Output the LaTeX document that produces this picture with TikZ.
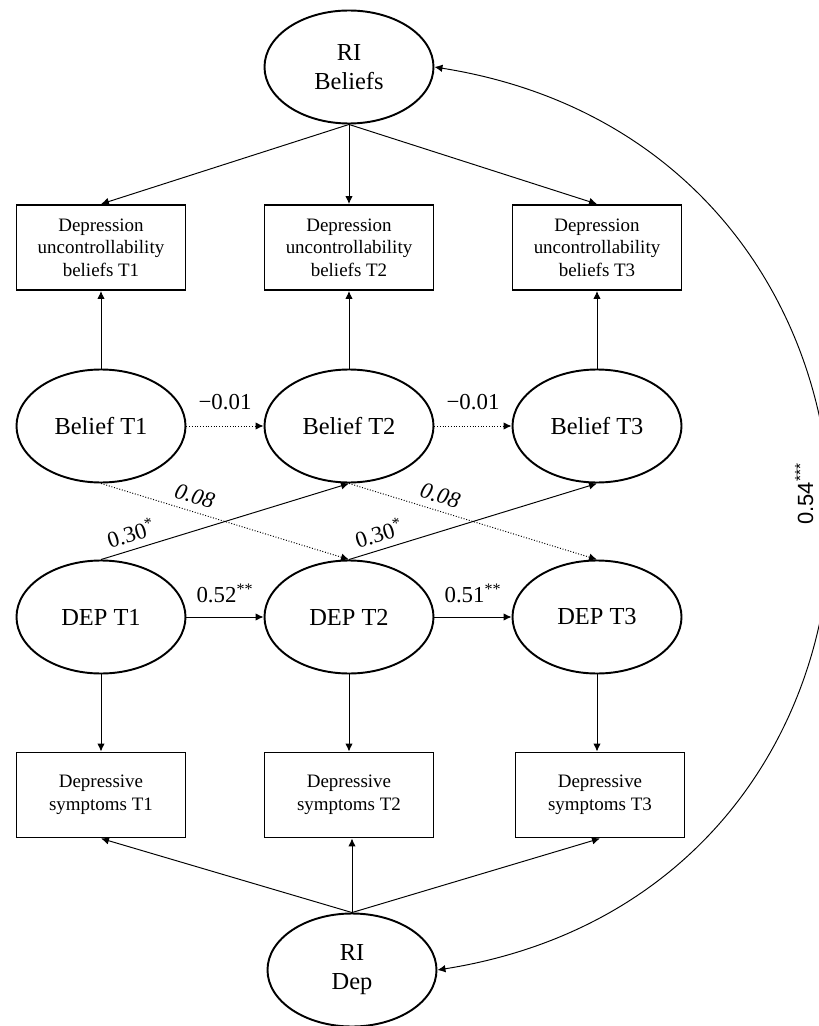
\documentclass[tikz,border=0pt]{standalone}
\usepackage{fontspec}
\setmainfont{Liberation Serif}
\newfontfamily\labelsans{Liberation Sans}
\usepackage{tikz}
\usetikzlibrary{shapes.geometric,arrows.meta,positioning}

\begin{document}
\begin{tikzpicture}[
    node distance=4.96cm,
    every node/.style={align=center},
    latent/.style={ellipse, draw, line width=1.1pt, minimum width=3.38cm, minimum height=2.26cm, inner sep=0pt, font=\fontsize{13.9}{16.4}\selectfont},
    indicator/.style={rectangle, draw, line width=1.1pt, minimum width=3.38cm, minimum height=1.7cm, inner sep=0pt, font=\fontsize{10.8}{12.8}\selectfont},
    arrow/.style={line width=0.55pt, >={Latex[length=0.16cm, width=0.15cm]}, ->},
    dotarrow/.style={arrow, densely dotted},
    coef/.style={font=\fontsize{13}{15}\selectfont},
    crosscoef/.style={coef, inner sep=1pt, above=3pt, sloped}
]

\useasboundingbox (-2.02,-12.0) rectangle (14.34,8.52);

% Latent factors
\node[latent] (belief1) {Belief T1};
\node[latent, right of=belief1] (belief2) {Belief T2};
\node[latent, right of=belief2] (belief3) {Belief T3};
\node[latent, below of=belief1, yshift=1.14cm] (dep1) {DEP T1};
\node[latent, right of=dep1] (dep2) {DEP T2};
\node[latent, right of=dep2] (dep3) {DEP T3};

% Observed indicators
\node[indicator, above of=belief1, yshift=-1.39cm] (ind1) {Depression\\uncontrollability\\beliefs T1};
\node[indicator, right of=ind1] (ind2) {Depression\\uncontrollability\\beliefs T2};
\node[indicator, right of=ind2] (ind3) {Depression\\uncontrollability\\beliefs T3};
\node[indicator, below of=dep1, yshift=1.4cm] (sym1) {Depressive\\symptoms T1};
\node[indicator, right of=sym1] (sym2) {Depressive\\symptoms T2};
\node[indicator, right of=sym2, xshift=0.06cm] (sym3) {Depressive\\symptoms T3};

% Random intercepts
\node[latent, above of=ind2, yshift=-1.35cm] (ribel) {RI\\Beliefs};
\node[latent, below of=sym2, yshift=1.46cm, xshift=0.06cm] (ridep) {RI\\Dep};

% Loadings
\draw[arrow] (ribel.south) -- (ind1.north);
\draw[arrow] (ribel.south) -- (ind2.north);
\draw[arrow] (ribel.south) -- (ind3.north);
\draw[arrow] (belief1) -- (ind1);
\draw[arrow] (belief2) -- (ind2);
\draw[arrow] (belief3) -- (ind3);
\draw[arrow] (dep1) -- (sym1);
\draw[arrow] (dep2) -- (sym2);
\draw[arrow] (dep3.south) -- (dep3.south |- sym3.north);
\draw[arrow] (ridep.north) -- (sym1.south);
\draw[arrow] (ridep.north) -- (ridep.north |- sym2.south);
\draw[arrow] (ridep.north) -- (sym3.south);

% Autoregressive paths
\draw[dotarrow] (belief1) -- (belief2) node[coef, midway, above=0.2cm] {−0.01};
\draw[dotarrow] (belief2) -- (belief3) node[coef, midway, above=0.2cm] {−0.01};
\draw[arrow] (dep1) -- (dep2) node[coef, midway, above=0.16cm] {0.52\textsuperscript{**}};
\draw[arrow] (dep2) -- (dep3) node[coef, midway, above=0.16cm] {0.51\textsuperscript{**}};

% Cross-lagged paths
\draw[dotarrow] (belief1.south) -- (dep2.north) node[crosscoef, pos=0.36] {\textit{0.08}};
\draw[dotarrow] (belief2.south) -- (dep3.north) node[crosscoef, pos=0.35] {\textit{0.08}};
\draw[arrow] (dep1.north) -- (belief2.south) node[crosscoef, pos=0.14] {0.30\textsuperscript{*}};
\draw[arrow] (dep2.north) -- (belief3.south) node[crosscoef, pos=0.14] {0.30\textsuperscript{*}};

% Intercept covariance
\draw[arrow, <->] (ribel.east) to[out=-9, in=9, looseness=1.5]
    node[pos=0.48, rotate=90, anchor=south, outer sep=5pt, font=\labelsans\fontsize{12.5}{15}\selectfont] {0.54\textsuperscript{***}} (ridep.east);

\end{tikzpicture}
\end{document}
